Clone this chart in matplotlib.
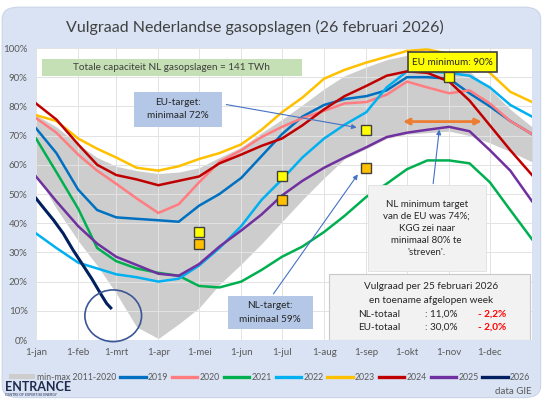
import matplotlib.pyplot as plt
from matplotlib.patches import Rectangle, Ellipse, FancyBboxPatch, Patch
from matplotlib.lines import Line2D

plt.rcParams['font.family'] = ['Lato', 'DejaVu Sans']

# dag van het jaar (0 = 1 januari)
dagen = [0, 15, 31, 45, 59, 74, 90, 105, 120, 135, 151, 166, 181, 196, 212,
         227, 243, 258, 273, 288, 304, 319, 334, 349, 365]

band_min = [57, 45, 34, 25.5, 16, 4.5, 0.5, 5.5, 11, 19, 26, 33, 40.5, 48, 55.5,
            62, 65.5, 69, 70.5, 71, 71.5, 70, 67.5, 64.5, 61]
band_max = [77, 73, 67, 62.5, 59.5, 58, 57, 57.5, 59, 62.5, 66, 71, 75.5, 80.5, 86,
            90.5, 93.5, 96, 97.5, 97, 95.5, 92, 86, 79, 73]

v2019 = [72.5, 64, 51.5, 44.5, 42, 41.5, 41, 40.5, 46, 50, 55.5, 63, 70.5, 76.5, 80.5,
         82.5, 83.5, 85.5, 90, 90, 89.5, 84.5, 80, 75, 70.5]
v2020 = [76, 71, 63.5, 58, 53.5, 48.5, 43.5, 46.5, 54, 61, 65, 69.5, 73, 76, 78.5,
         81, 81.5, 84, 88.5, 86.5, 84.5, 85.5, 81, 75, 70.5]
v2021 = [69, 57.5, 45, 31.5, 27, 24.5, 23, 22, 18.5, 18, 20, 24, 28.5, 32, 37,
         42.5, 49, 53.5, 58.5, 61.5, 61.5, 60.5, 54, 44.5, 34.5]
v2022 = [36.5, 31.5, 26.5, 24.5, 22.5, 21.5, 20, 21, 25.5, 31.5, 39, 48, 55, 62.5, 69,
         73.7, 78, 86.5, 92, 92, 91.5, 90.5, 86.5, 80.5, 76.5]
v2023 = [77, 75, 69, 65.5, 62.5, 59, 58, 59.5, 62, 64, 67, 72, 78, 83, 89.5,
         92.5, 95, 97, 99, 99.5, 98, 96, 91.5, 85, 81.5]
v2024 = [81, 75.5, 67, 60, 56.5, 55, 53, 54.5, 56, 60.5, 63.5, 66.5, 69, 73.5, 79,
         83.5, 87, 90.5, 92, 91.5, 88.5, 82, 73.5, 65, 56.5]
v2025 = [56, 47.5, 39, 33, 28.5, 25.7, 22.7, 22, 26, 32, 37.5, 43, 49.5, 54.5, 59,
         62.5, 66, 69.5, 71, 72, 73, 71.5, 65, 58, 47.5]

dagen_2026 = [0, 6, 13, 20, 27, 34, 41, 48, 52, 55]
v2026 = [48.5, 45, 41, 36.5, 31, 26, 21, 15.5, 12.5, 11.0]

eu_dagen = [120, 181, 243, 304]
eu_target = [37, 56, 72, 90]
nl_dagen = [120, 181, 243]
nl_target = [33, 48, 59]

maand_dagen = [0, 31, 59, 90, 120, 151, 181, 212, 243, 273, 304, 334]
maand_labels = ['1-jan', '1-feb', '1-mrt', '1-apr', '1-mei', '1-jun', '1-jul',
                '1-aug', '1-sep', '1-okt', '1-nov', '1-dec']

reeksen = [
    ('2019', v2019, '#0070c0'),
    ('2020', v2020, '#ff7c80'),
    ('2021', v2021, '#00b050'),
    ('2022', v2022, '#00b0f0'),
    ('2023', v2023, '#ffc000'),
    ('2024', v2024, '#c00000'),
    ('2025', v2025, '#7030a0'),
]
kleur_2026 = '#002060'
grijs = '#595959'

fig = plt.figure(figsize=(5.45, 4.0), dpi=100)
fig.patch.set_facecolor('white')
achtergrond = FancyBboxPatch((0.004, 0.006), 0.988, 0.976,
                             boxstyle='round,pad=0,rounding_size=0.03',
                             transform=fig.transFigure, facecolor='#dae3f3',
                             edgecolor='#c9d5e8', lw=0.8, zorder=-10)
fig.patches.append(achtergrond)

ax = fig.add_axes([0.0661, 0.15, 0.9101, 0.73])
ax.set_zorder(1)
ax.set_facecolor('white')
ax.set_xlim(0, 365)
ax.set_ylim(0, 100)

ax.fill_between(dagen, band_min, band_max, color='#cdcdcd', lw=0, zorder=1)

ax.set_axisbelow(False)
ax.grid(True, color='#e3e3e3', lw=0.7)
ax.set_xticks(maand_dagen)
ax.set_xticklabels(maand_labels)
ax.set_yticks(range(0, 101, 10))
ax.set_yticklabels([f'{v}%' for v in range(0, 101, 10)])
ax.tick_params(length=0, labelsize=7, colors=grijs, pad=6)
for s in ax.spines.values():
    s.set_visible(False)

for naam, waarden, kleur in reeksen:
    ax.plot(dagen, waarden, color=kleur, lw=1.8, zorder=3)
ax.plot(dagen_2026, v2026, color=kleur_2026, lw=2.2, zorder=4)

ax.plot(eu_dagen, eu_target, 's', ms=6.5, mfc='#ffff00', mec='#404040', mew=1, zorder=6)
ax.plot(nl_dagen, nl_target, 's', ms=6.5, mfc='#ffc000', mec='#404040', mew=1, zorder=6)

ax.add_patch(Ellipse((56.8, 8.3), 41.7, 17.7, fill=False, ec='#3b5694', lw=1.2,
                     zorder=5, clip_on=False))

# kaders met tekst
ax.add_patch(Rectangle((4.4, 90.4), 191.2, 5.8, fc='#c5e0b4', ec='none', zorder=5))
ax.text(100, 93.3, 'Totale capaciteit NL gasopslagen = 141 TWh', ha='center',
        va='center', fontsize=7.2, color='#404040', zorder=6)

ax.add_patch(Rectangle((72, 73), 64.8, 12, fc='#b4c7e7', ec='none', zorder=5))
ax.text(104.4, 79, 'EU-target:\nminimaal 72%', ha='center', va='center',
        fontsize=7.2, color='#262626', linespacing=1.6, zorder=6)
ax.annotate('', xy=(238, 72.6), xytext=(138, 80.8),
            arrowprops=dict(arrowstyle='-|>', color='#4472c4', lw=0.8,
                            mutation_scale=7), zorder=6)

ax.add_patch(Rectangle((273.5, 91.8), 65.5, 6.8, fc='#ffff00', ec='#404040', lw=1.2,
                       zorder=7, clip_on=False))
ax.text(306.2, 95.2, 'EU minimum: 90%', ha='center', va='center', fontsize=7.2,
        color='#262626', zorder=8)

ax.annotate('', xy=(330, 74.8), xytext=(268, 74.8),
            arrowprops=dict(arrowstyle='<|-|>', color='#ed7d31', lw=2,
                            mutation_scale=9), zorder=6)

ax.add_patch(Rectangle((244, 23.5), 87, 29.5, fc='#f2f2f2', ec='#e0e0e0', lw=0.6,
                       zorder=5))
ax.text(287.5, 38.2, "NL minimum target\nvan de EU was 74%;\nKGG zei naar\n"
        "minimaal 80% te\n'streven'.", ha='center', va='center', fontsize=7,
        color='#262626', linespacing=1.45, zorder=6)
ax.annotate('', xy=(297, 73), xytext=(292, 52.6),
            arrowprops=dict(arrowstyle='-|>', color='#4472c4', lw=0.8,
                            mutation_scale=7), zorder=6)

ax.add_patch(Rectangle((141, 3.8), 62.7, 11.2, fc='#b4c7e7', ec='none', zorder=5))
ax.text(172.4, 9.4, 'NL-target:\nminimaal 59%', ha='center', va='center',
        fontsize=7.2, color='#262626', linespacing=1.6, zorder=6)
ax.annotate('', xy=(238, 57.5), xytext=(173.5, 15),
            arrowprops=dict(arrowstyle='-|>', color='#4472c4', lw=0.8,
                            mutation_scale=7), zorder=6)

ax.add_patch(Rectangle((215.4, 0), 147.8, 22.6, fc='#f2f2f2', ec='#c8c8c8', lw=0.8,
                       zorder=5))
ax.text(290.4, 18.3, 'Vulgraad per 25 februari 2026', ha='center', va='center',
        fontsize=7.2, color='#262626', zorder=6)
ax.text(290.4, 13.6, 'en toename afgelopen week', ha='center', va='center',
        fontsize=7.2, color='#262626', zorder=6)
for y, naam, waarde, toename in [(8.9, 'NL-totaal', ': 11,0%', '- 2,2%'),
                                 (4.3, 'EU-totaal', ': 30,0%', '- 2,0%')]:
    ax.text(236.8, y, naam, ha='left', va='center', fontsize=7.2, color='#262626', zorder=6)
    ax.text(286, y, waarde, ha='left', va='center', fontsize=7.2, color='#262626', zorder=6)
    ax.text(325, y, toename, ha='left', va='center', fontsize=7.2, color='#ff0000',
            fontweight='bold', zorder=6)

fig.text(0.468, 0.932, 'Vulgraad Nederlandse gasopslagen (26 februari 2026)',
         ha='center', va='center', fontsize=11.5, color='#404040')

handles = [Patch(fc='#cdcdcd', ec='none', label='min-max 2011-2020')]
for naam, waarden, kleur in reeksen:
    handles.append(Line2D([], [], color=kleur, lw=2.4, label=naam))
handles.append(Line2D([], [], color=kleur_2026, lw=2.4, label='2026'))
leg = fig.legend(handles=handles, loc='center', bbox_to_anchor=(0.495, 0.0575),
                 ncol=9, frameon=False, fontsize=6.3, handlelength=2.9,
                 handleheight=0.6, columnspacing=0.45, handletextpad=0.25)
for t in leg.get_texts():
    t.set_color(grijs)

fig.text(0.01, 0.032, 'ENTRANCE', ha='left', va='center', fontsize=9,
         fontweight='bold', color='#1f2a4d')
fig.text(0.01, 0.012, 'CENTRE OF EXPERTISE ENERGY', ha='left', va='center',
         fontsize=2.5, color='#1f2a4d')
fig.text(0.976, 0.02, 'data GIE', ha='right', va='center', fontsize=7, color=grijs)

fig.savefig('out.png', dpi=100, facecolor=fig.get_facecolor())
